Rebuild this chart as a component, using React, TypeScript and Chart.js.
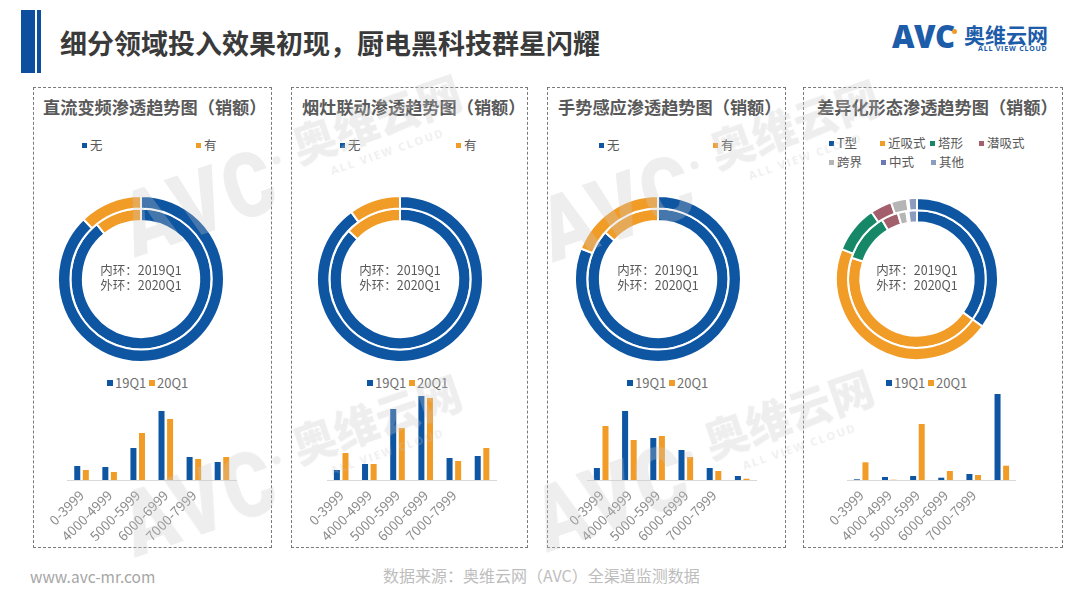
import React, { useEffect, useRef } from 'react';
import { Chart, registerables } from 'chart.js';

Chart.register(...registerables);

const FONT = '"Microsoft YaHei", "Noto Sans CJK SC", "Noto Sans", sans-serif';

const BLUE = '#0e55a2';
const ORANGE = '#f29c28';
const GREEN = '#168868';
const MAUVE = '#a35f6b';
const LGRAY = '#b5b5b5';
const PURPLE = '#6b78b8';
const SLATE = '#8c9cc0';

// ---- data ----
const priceBands = ['0-3999', '4000-4999', '5000-5999', '6000-6999', '7000-7999', ''];
const barSeriesNames = ['19Q1', '20Q1'];

const dcInverter19 = [14, 13, 32, 69, 23, 18];
const dcInverter20 = [10, 8, 47, 61, 21, 23];
const hoodLink19 = [10, 16, 71, 84, 22, 24];
const hoodLink20 = [27, 16, 52, 82, 19, 32];
const gesture19 = [12, 69, 42, 30, 12, 4];
const gesture20 = [54, 40, 44, 23, 9, 1.3];
const shape19 = [0.7, 3, 4, 2.3, 6, 86];
const shape20 = [17.7, 0.3, 56, 9, 5, 14.3];

const yesNoLabels = ['无', '有'];
const dcInverterRing19 = [89.2, 10.8];
const dcInverterRing20 = [87.8, 12.2];
const hoodLinkRing19 = [87, 13];
const hoodLinkRing20 = [90, 10];
const gestureRing19 = [86.5, 13.5];
const gestureRing20 = [81, 19];

const shapeLabels = ['T型', '近吸式', '塔形', '潜吸式', '跨界', '中式', '其他'];
const shapeRing19 = [35, 45, 11.5, 4, 2, 0.5, 2];
const shapeRing20 = [35, 46, 9.5, 4.3, 3.2, 0.3, 1.7];

const ringCaption = ['内环：2019Q1', '外环：2020Q1'];

const yesNoColors = [BLUE, ORANGE];
const shapeColors = [BLUE, ORANGE, GREEN, MAUVE, LGRAY, PURPLE, SLATE];

type Panel = {
  title: string;
  box: number[];
  titleX: number;
  cx: number;
  r: number;
  ringLabels: string[];
  outer: number[];
  inner: number[];
  colors: string[];
  legend: { x: number; y: number }[];
  d19: number[];
  d20: number[];
  area: number[];
  barLegendX: number;
};

const panels: Panel[] = [
  {
    title: '直流变频渗透趋势图（销额）', box: [33, 87, 272, 548], titleX: 43, cx: 141, r: 83,
    ringLabels: yesNoLabels, outer: dcInverterRing20, inner: dcInverterRing19, colors: yesNoColors,
    legend: [{ x: 82, y: 145 }, { x: 196, y: 145 }],
    d19: dcInverter19, d20: dcInverter20, area: [67.5, 236], barLegendX: 107,
  },
  {
    title: '烟灶联动渗透趋势图（销额）', box: [291, 87, 528, 548], titleX: 302, cx: 400, r: 83,
    ringLabels: yesNoLabels, outer: hoodLinkRing20, inner: hoodLinkRing19, colors: yesNoColors,
    legend: [{ x: 340, y: 145 }, { x: 456, y: 145 }],
    d19: hoodLink19, d20: hoodLink20, area: [327.1, 496.1], barLegendX: 367,
  },
  {
    title: '手势感应渗透趋势图（销额）', box: [547, 87, 786, 548], titleX: 558, cx: 658, r: 83,
    ringLabels: yesNoLabels, outer: gestureRing20, inner: gestureRing19, colors: yesNoColors,
    legend: [{ x: 599, y: 145 }, { x: 713, y: 145 }],
    d19: gesture19, d20: gesture20, area: [587.1, 756.3], barLegendX: 627,
  },
  {
    title: '差异化形态渗透趋势图（销额）', box: [803, 87, 1063, 548], titleX: 817, cx: 917, r: 81,
    ringLabels: shapeLabels, outer: shapeRing20, inner: shapeRing19, colors: shapeColors,
    legend: [
      { x: 829, y: 143 }, { x: 880, y: 143 }, { x: 930, y: 143 }, { x: 979, y: 143 },
      { x: 829, y: 162 }, { x: 881, y: 162 }, { x: 931, y: 162 },
    ],
    d19: shape19, d20: shape20, area: [847.1, 1015.9], barLegendX: 886,
  },
];

// watermark anchors (bottom-left of "奥维云网")
const watermarkAnchors = [
  [300, 167],
  [300, 467],
  [718, 172],
  [712, 462],
];

const RING_CY = 279;

function Donut({ cx, r, labels, outer, inner, colors }: { cx: number; r: number; labels: string[]; outer: number[]; inner: number[]; colors: string[] }) {
  const ref = useRef<HTMLCanvasElement>(null);
  const size = r * 2 + 2;
  useEffect(() => {
    const chart = new Chart(ref.current!, {
      type: 'doughnut',
      data: {
        labels,
        datasets: [
          { label: '2020Q1', data: outer, backgroundColor: colors, borderColor: '#ffffff', borderWidth: 2 },
          { label: '2019Q1', data: inner, backgroundColor: colors, borderColor: '#ffffff', borderWidth: 2 },
        ],
      },
      options: {
        responsive: false,
        animation: false,
        events: [],
        cutout: '70%',
        layout: { padding: 0 },
        plugins: { legend: { display: false }, tooltip: { enabled: false } },
      },
    });
    return () => chart.destroy();
  }, []);
  return (
    <canvas
      ref={ref}
      width={size}
      height={size}
      style={{ position: 'absolute', left: cx - size / 2, top: RING_CY - size / 2, width: size, height: size }}
    />
  );
}

function Bars({ d19, d20, area }: { d19: number[]; d20: number[]; area: number[] }) {
  const ref = useRef<HTMLCanvasElement>(null);
  const canvasX = Math.floor(area[0]) - 50;
  const width = Math.ceil(area[1]) + 15 - canvasX;
  const padL = area[0] - canvasX;
  const padR = width - (area[1] - canvasX);
  const canvasY = 385;
  const padT = 5;
  const xh = 70;
  const height = padT + 90 + xh;
  useEffect(() => {
    const chart = new Chart(ref.current!, {
      type: 'bar',
      data: {
        labels: priceBands,
        datasets: [
          { label: barSeriesNames[0], data: d19, backgroundColor: BLUE, barPercentage: 0.7, categoryPercentage: 0.61 },
          { label: barSeriesNames[1], data: d20, backgroundColor: ORANGE, barPercentage: 0.7, categoryPercentage: 0.61 },
        ],
      },
      options: {
        responsive: false,
        animation: false,
        events: [],
        layout: { padding: { left: padL, right: padR, top: padT, bottom: 0 } },
        plugins: { legend: { display: false }, tooltip: { enabled: false } },
        scales: {
          x: {
            grid: { display: false, drawTicks: false },
            border: { display: true, color: '#d9d9d9', width: 1 },
            ticks: {
              autoSkip: false,
              minRotation: 45,
              maxRotation: 45,
              padding: 7,
              color: '#8c8c8c',
              font: { family: FONT, size: 13.5 },
            },
            afterFit: (s: any) => {
              s.height = xh;
              s.paddingLeft = 0;
              s.paddingRight = 0;
            },
          },
          y: { display: false, min: 0, max: 90 },
        },
      },
    });
    return () => chart.destroy();
  }, []);
  return (
    <canvas
      ref={ref}
      width={width}
      height={height}
      style={{ position: 'absolute', left: canvasX, top: canvasY, width, height }}
    />
  );
}

const abs = (left: number, top: number, extra: React.CSSProperties = {}): React.CSSProperties => ({
  position: 'absolute',
  left,
  top,
  whiteSpace: 'nowrap',
  ...extra,
});

function LegendItem({ x, y, color, text, size = 12, sq = 5, gap = 3, tc = '#595959' }: { x: number; y: number; color: string; text: string; size?: number; sq?: number; gap?: number; tc?: string }) {
  return (
    <>
      <div style={abs(x, y - sq / 2, { width: sq, height: sq, background: color })} />
      <div style={abs(x + sq + gap, y - size * 0.65, { fontSize: size, lineHeight: `${size * 1.3}px`, color: tc })}>{text}</div>
    </>
  );
}

const WM = 'rgba(200,200,200,0.3)';
const wmLetters = [
  { ch: 'A', u: -160 },
  { ch: 'V', u: -108 },
  { ch: 'C', u: -55 },
];

function Watermark({ x, y }: { x: number; y: number }) {
  return (
    <div style={abs(x, y, { width: 0, height: 0, transform: 'rotate(-19deg)', transformOrigin: '0 0', pointerEvents: 'none' })}>
      {wmLetters.map((l) => (
        <div
          key={l.ch}
          style={abs(l.u - 50, 3 - 46, {
            width: 100,
            textAlign: 'center',
            fontSize: 90,
            lineHeight: '90px',
            fontWeight: 900,
            color: WM,
            fontFamily: 'Roboto, Lato, "DejaVu Sans", sans-serif',
            transform: 'scaleX(0.85)',
          })}
        >
          {l.ch}
        </div>
      ))}
      <div style={abs(-24, -18, { width: 8, height: 8, borderRadius: 4, background: WM })} />
      <div style={abs(0, -44, { fontSize: 44, lineHeight: '44px', fontWeight: 900, color: WM })}>奥维云网</div>
      <div style={abs(28, 8, { fontSize: 11, lineHeight: '11px', fontWeight: 700, color: WM, letterSpacing: 2, fontFamily: '"Open Sans", sans-serif' })}>ALL VIEW CLOUD</div>
    </div>
  );
}

export default function App() {
  useEffect(() => {
    document.body.style.margin = '0';
  }, []);
  return (
    <div style={{ position: 'absolute', left: 0, top: 0, width: 1080, height: 608, background: '#ffffff', overflow: 'hidden', fontFamily: FONT }}>
      {/* header */}
      <div style={abs(21, 10, { width: 14, height: 63, background: '#0d4f9e' })} />
      <div style={abs(37, 10, { width: 4, height: 63, background: '#0d4f9e' })} />
      <div style={abs(60, 28, { fontSize: 27, lineHeight: '30px', fontWeight: 700, color: '#3a3a3a' })}>
        细分领域投入效果初现，厨电黑科技群星闪耀
      </div>
      {/* logo */}
      <div style={abs(892, 21, { fontSize: 31, lineHeight: '31px', fontWeight: 800, color: '#1d5ca8', fontFamily: '"Open Sans", "Noto Sans", sans-serif', letterSpacing: -0.5 })}>AVC</div>
      <div style={abs(952, 29, { width: 5, height: 5, borderRadius: 3, background: '#f29c28' })} />
      <div style={abs(964, 22, { fontSize: 21, lineHeight: '24px', fontWeight: 700, color: '#1d5ca8' })}>奥维云网</div>
      <div style={abs(978, 45, { fontSize: 7, lineHeight: '8px', fontWeight: 700, color: '#1d5ca8', letterSpacing: 0.8, fontFamily: '"Open Sans", sans-serif' })}>ALL VIEW CLOUD</div>

      {panels.map((p, i) => (
        <React.Fragment key={i}>
          <div
            style={abs(p.box[0], p.box[1], {
              width: p.box[2] - p.box[0],
              height: p.box[3] - p.box[1],
              border: '1px dashed #7a7a7a',
              boxSizing: 'border-box',
            })}
          />
          <div style={abs(p.titleX, 96, { fontSize: 17.2, lineHeight: '22px', fontWeight: 700, color: '#595959' })}>{p.title}</div>
          {p.legend.map((l, j) => (
            <LegendItem key={j} x={l.x} y={l.y} color={p.colors[j]} text={p.ringLabels[j]} size={12.5} sq={5} gap={3} />
          ))}
          <Donut cx={p.cx} r={p.r} labels={p.ringLabels} outer={p.outer} inner={p.inner} colors={p.colors} />
          <div style={abs(p.cx - 60, 262, { width: 120, textAlign: 'center', fontSize: 12.5, lineHeight: '15px', color: '#595959' })}>
            {ringCaption[0]}
            <br />
            {ringCaption[1]}
          </div>
          <LegendItem x={p.barLegendX} y={383} color={BLUE} text={barSeriesNames[0]} size={13} sq={6} gap={2} tc="#707070" />
          <LegendItem x={p.barLegendX + 42} y={383} color={ORANGE} text={barSeriesNames[1]} size={13} sq={6} gap={2} tc="#707070" />
          <Bars d19={p.d19} d20={p.d20} area={p.area} />
        </React.Fragment>
      ))}

      {/* footer */}
      <div style={abs(30, 566, { fontSize: 15.5, lineHeight: '20px', color: '#a6a6a6' })}>www.avc-mr.com</div>
      <div style={abs(383, 565, { fontSize: 16, lineHeight: '20px', color: '#bdbdbd' })}>数据来源：奥维云网（AVC）全渠道监测数据</div>

      {watermarkAnchors.map((a, i) => (
        <Watermark key={i} x={a[0]} y={a[1]} />
      ))}
    </div>
  );
}
